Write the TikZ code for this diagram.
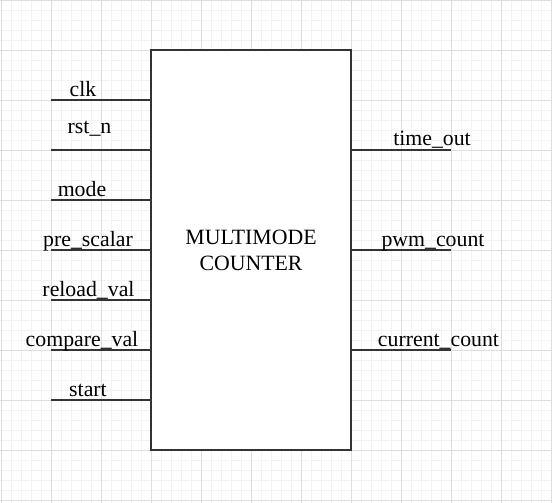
\documentclass[tikz,border=0pt]{standalone}
\usepackage{fontspec}
\setmainfont{Liberation Serif}
\begin{document}
\begin{tikzpicture}[x=1pt,y=-1pt,
  minorgrid/.style={draw=black!5, line width=0.6pt},
  majorgrid/.style={draw=black!13, line width=0.8pt},
  wire/.style={draw=black!80, line width=1.3pt},
  blockbox/.style={draw=black!80, line width=1.4pt, fill=white, outer sep=0pt,
    minimum width=200pt, minimum height=400pt, align=center,
    font=\fontsize{21.8}{26}\selectfont},
  lbl/.style={anchor=base, inner sep=0pt, font=\fontsize{21.8}{26}\selectfont}]
\useasboundingbox (0,0) rectangle (552,503);
\fill[white] (0,0) rectangle (552,503);
\foreach \i in {1,11,...,551} \draw[minorgrid] (\i,0) -- (\i,503);
\foreach \j in {0,10,...,500} \draw[minorgrid] (0,\j) -- (552,\j);
\foreach \i in {1,51,...,551} \draw[majorgrid] (\i,0) -- (\i,503);
\foreach \j in {0,50,...,500} \draw[majorgrid] (0,\j) -- (552,\j);

\node[blockbox] (box) at (251,250) {MULTIMODE\\COUNTER};

\coordinate (i1) at (51,100);
\coordinate (i2) at (51,150);
\coordinate (i3) at (51,200);
\coordinate (i4) at (51,250);
\coordinate (i5) at (51,300);
\coordinate (i6) at (51,350);
\coordinate (i7) at (51,400);
\coordinate (o1) at (451,150);
\coordinate (o2) at (451,250);
\coordinate (o3) at (451,350);
\foreach \n in {i1,i2,i3,i4,i5,i6,i7} \draw[wire] (\n) -- (\n -| box.west);
\foreach \n in {o1,o2,o3} \draw[wire] (box.east |- \n) -- (\n);

\node[lbl] (lclk) at (83,96.7) {clk};
\node[lbl] (lrst) at (89.5,133) {rst\_n};
\node[lbl] (lmode) at (82,196) {mode};
\node[lbl] (lpre) at (88,246) {pre\_scalar};
\node[lbl] (lrel) at (88.5,296) {reload\_val};
\node[lbl] (lcmp) at (82,346) {compare\_val};
\node[lbl] (lstart) at (88,396) {start};
\node[lbl] (ltime) at (432,146) {time\_out};
\node[lbl] (lpwm) at (433,246.5) {pwm\_count};
\node[lbl] (lcur) at (438.5,346) {current\_count};
\end{tikzpicture}
\end{document}
